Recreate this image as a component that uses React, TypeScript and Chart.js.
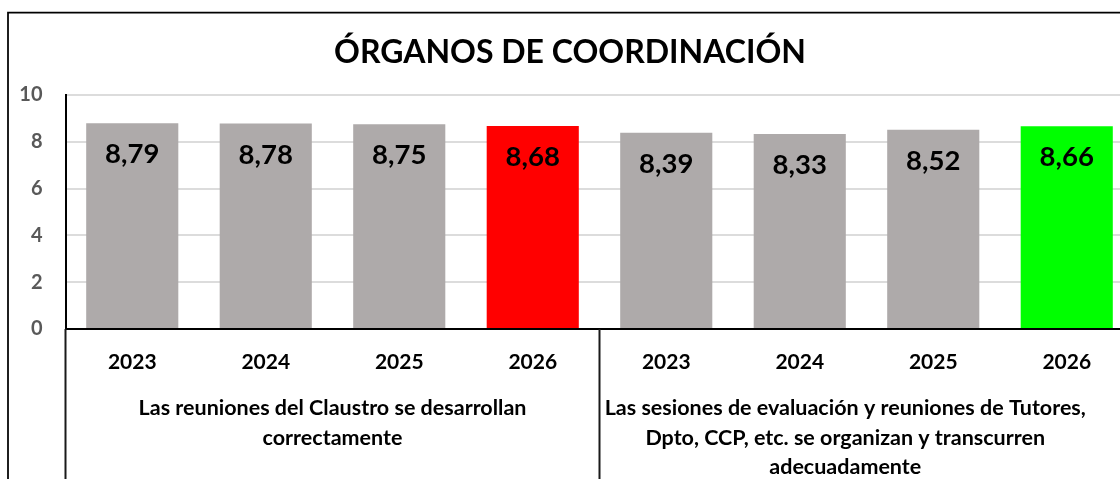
import React, { useEffect, useRef } from "react";
import { Chart, registerables } from "chart.js";

Chart.register(...registerables);

const TITLE = "ÓRGANOS DE COORDINACIÓN";
const YEARS = ["2023", "2024", "2025", "2026", "2023", "2024", "2025", "2026"];
const VALUES = [8.79, 8.78, 8.75, 8.68, 8.39, 8.33, 8.52, 8.66];
const BAR_COLORS = ["#AEAAAA", "#AEAAAA", "#AEAAAA", "#FF0000", "#AEAAAA", "#AEAAAA", "#AEAAAA", "#00FF00"];
const GROUP_LABELS: string[][] = [
  ["Las reuniones del Claustro se desarrollan", "correctamente"],
  [
    "Las sesiones de evaluación y reuniones de Tutores,",
    "Dpto, CCP, etc. se organizan y transcurren",
    "adecuadamente",
  ],
];
const Y_MIN = 0;
const Y_MAX = 10;
const Y_STEP = 2;

const FONT = "Lato, 'Open Sans', 'DejaVu Sans', sans-serif";

const fmt = (v: number) => v.toFixed(2).replace(".", ",");

export default function App() {
  const ref = useRef<HTMLCanvasElement | null>(null);

  useEffect(() => {
    if (!ref.current) return;
    const decor = {
      id: "decor",
      afterDatasetsDraw(chart: any) {
        const ctx = chart.ctx;
        const meta = chart.getDatasetMeta(0);
        ctx.save();
        ctx.fillStyle = "#000";
        ctx.font = `bold 27.5px ${FONT}`;
        ctx.textAlign = "center";
        ctx.textBaseline = "alphabetic";
        meta.data.forEach((bar: any, i: number) => {
          ctx.fillText(fmt(VALUES[i]), bar.x, bar.y + 40);
        });
        ctx.restore();
      },
      afterDraw(chart: any) {
        const ctx = chart.ctx;
        const area = chart.chartArea;
        const xs = chart.scales.x;
        ctx.save();
        // outer frame
        ctx.strokeStyle = "#000";
        ctx.lineWidth = 1.75;
        ctx.beginPath();
        ctx.moveTo(8, chart.height + 5);
        ctx.lineTo(8, 12.5);
        ctx.lineTo(chart.width + 5, 12.5);
        ctx.stroke();

        // title
        ctx.fillStyle = "#000";
        ctx.font = `bold 32px ${FONT}`;
        ctx.textAlign = "center";
        ctx.textBaseline = "alphabetic";
        ctx.fillText(TITLE, 570, 63);

        // category separators below axis
        const step = xs.getPixelForValue(1) - xs.getPixelForValue(0);
        const sepX = xs.getPixelForValue(3) + step / 2;
        ctx.strokeStyle = "#1a1a1a";
        ctx.lineWidth = 2;
        ctx.beginPath();
        ctx.moveTo(area.left, area.bottom);
        ctx.lineTo(area.left, chart.height);
        ctx.moveTo(sepX, area.bottom);
        ctx.lineTo(sepX, chart.height);
        ctx.stroke();

        // year labels
        ctx.font = `bold 21px ${FONT}`;
        YEARS.forEach((y, i) => {
          ctx.fillText(y, xs.getPixelForValue(i), area.bottom + 40);
        });

        // group labels
        ctx.font = `bold 21.5px ${FONT}`;
        const centers = [(area.left + sepX) / 2, (sepX + 1091) / 2];
        GROUP_LABELS.forEach((lines, g) => {
          lines.forEach((line, k) => {
            ctx.fillText(line, centers[g], area.bottom + 86 + k * 29.5);
          });
        });
        ctx.restore();
      },
    };

    const chart = new Chart(ref.current, {
      type: "bar",
      data: {
        labels: YEARS,
        datasets: [
          {
            data: VALUES,
            backgroundColor: BAR_COLORS,
            borderWidth: 0,
            barPercentage: 0.69,
            categoryPercentage: 1.0,
          },
        ],
      },
      options: {
        responsive: false,
        animation: false,
        devicePixelRatio: 1,
        layout: { padding: { top: 95, left: 0, right: 26.5, bottom: 0 } },
        plugins: {
          legend: { display: false },
          title: { display: false },
          tooltip: { enabled: false },
        },
        scales: {
          x: {
            offset: true,
            grid: { display: false, drawTicks: false },
            border: { display: true, color: "#000", width: 2 },
            ticks: { display: false },
            afterFit(scale: any) {
              scale.height = 150;
            },
          },
          y: {
            min: Y_MIN,
            max: Y_MAX,
            ticks: {
              stepSize: Y_STEP,
              padding: 23,
              color: "#595959",
              font: { family: FONT, size: 20, weight: "bold" },
            },
            grid: { color: "#dcdcdc", lineWidth: 2, drawTicks: false },
            border: { display: true, color: "#000", width: 2 },
            afterFit(scale: any) {
              scale.width = 65.5;
            },
          },
        },
      },
      plugins: [decor],
    } as any);
    return () => chart.destroy();
  }, []);

  return (
    <div
      style={{
        position: "fixed",
        top: 0,
        left: 0,
        width: 1120,
        height: 479,
        overflow: "hidden",
        background: "#fff",
      }}
    >
      <canvas ref={ref} width={1160} height={479} style={{ display: "block" }} />
    </div>
  );
}
